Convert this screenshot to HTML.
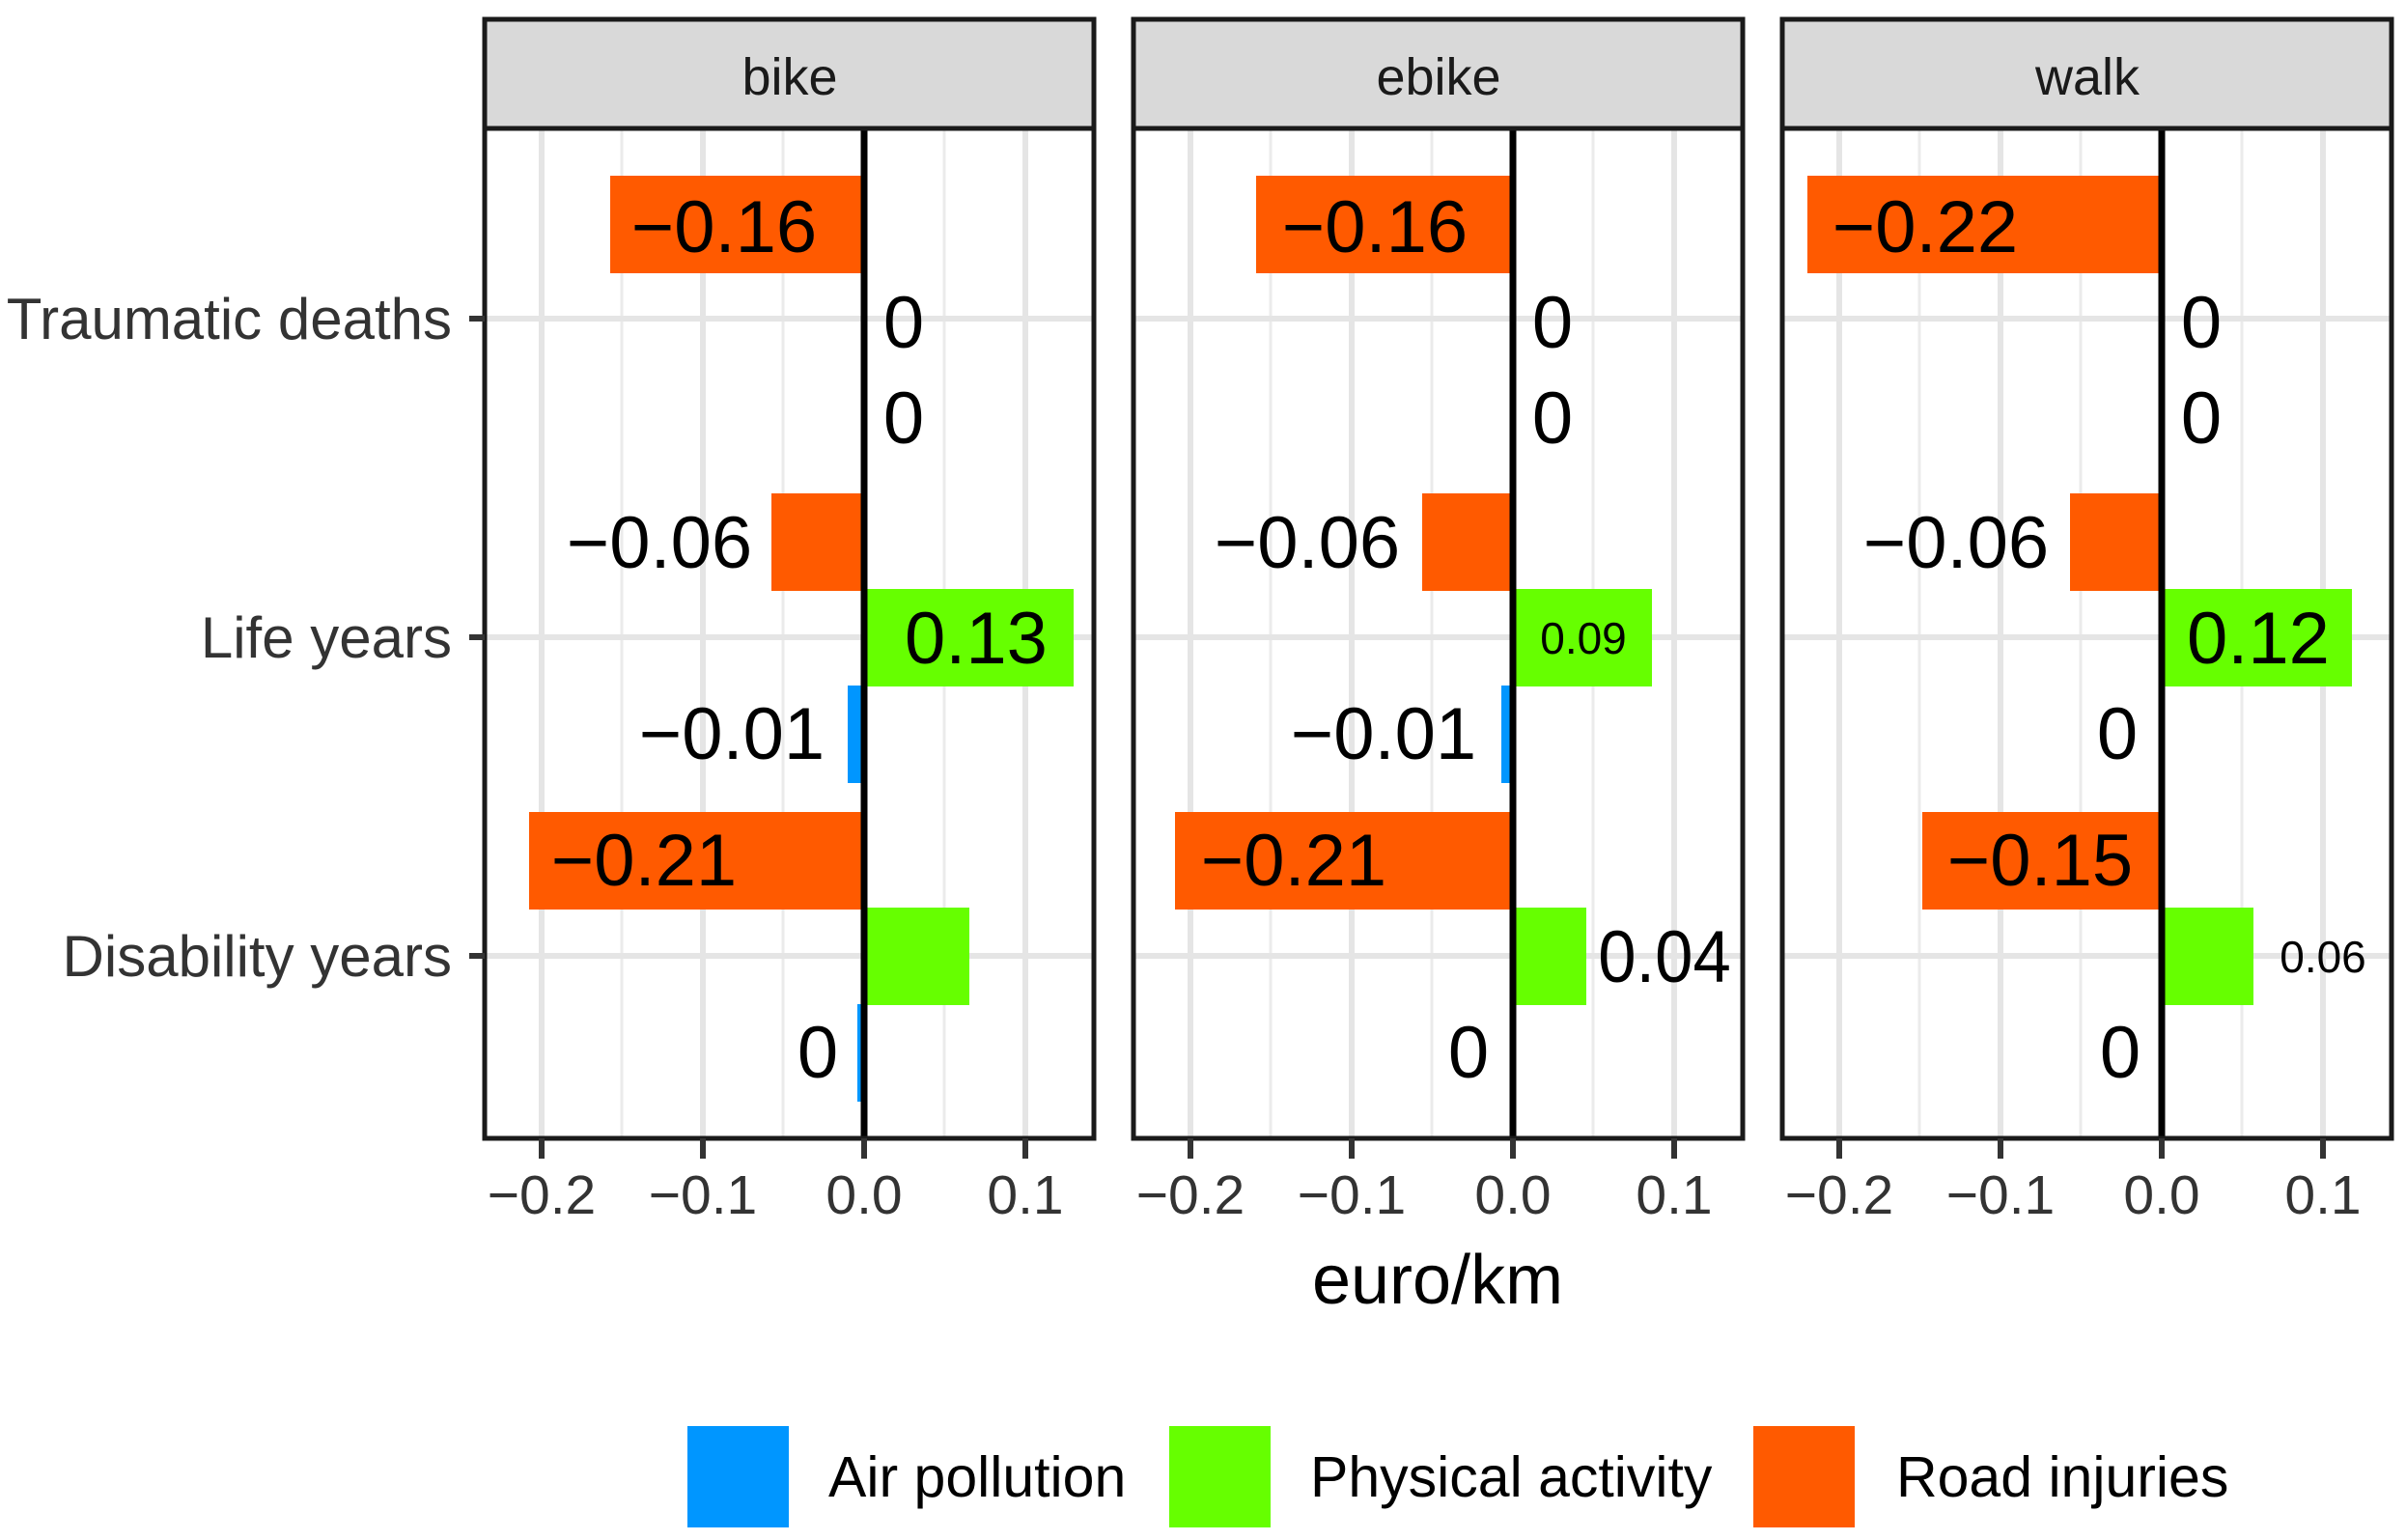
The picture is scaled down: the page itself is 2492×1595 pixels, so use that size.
<!DOCTYPE html>
<html><head><meta charset="utf-8"><style>html,body{margin:0;padding:0;background:#fff}svg{display:block}</style></head>
<body>
<svg width="2492" height="1595" viewBox="0 0 2492 1595" xmlns="http://www.w3.org/2000/svg" font-family="Liberation Sans, Arial, sans-serif">
<rect width="2492" height="1595" fill="#fff"/>
<!-- bike panel -->
<g>
 <rect x="502" y="133" width="631" height="1046" fill="#fff"/>
 <g stroke="#ebebeb" stroke-width="3">
  <line x1="644" y1="133" x2="644" y2="1179"/><line x1="811" y1="133" x2="811" y2="1179"/><line x1="978" y1="133" x2="978" y2="1179"/>
 </g>
 <g stroke="#e5e5e5" stroke-width="6">
  <line x1="561" y1="133" x2="561" y2="1179"/><line x1="728" y1="133" x2="728" y2="1179"/><line x1="1062" y1="133" x2="1062" y2="1179"/>
  <line x1="502" y1="330" x2="1133" y2="330"/><line x1="502" y1="660" x2="1133" y2="660"/><line x1="502" y1="990" x2="1133" y2="990"/>
 </g>
 <rect x="632" y="182" width="263" height="101" fill="#ff5a00"/>
 <rect x="799" y="511" width="96" height="101" fill="#ff5a00"/>
 <rect x="895" y="610" width="217" height="101" fill="#66ff00"/>
 <rect x="878" y="710" width="17" height="101" fill="#0096ff"/>
 <rect x="548" y="841" width="347" height="101" fill="#ff5a00"/>
 <rect x="895" y="940" width="109" height="101" fill="#66ff00"/>
 <rect x="888" y="1040" width="7" height="101" fill="#0096ff"/>
 <line x1="895" y1="133" x2="895" y2="1179" stroke="#000" stroke-width="7"/>
 <rect x="502" y="133" width="631" height="1046" fill="none" stroke="#1a1a1a" stroke-width="5"/>
 <rect x="502" y="20" width="631" height="113" fill="#d9d9d9" stroke="#1a1a1a" stroke-width="5"/>
 <text x="818" y="98" font-size="54" text-anchor="middle" fill="#1a1a1a">bike</text>
 <g font-size="76" text-anchor="middle" fill="#000">
  <text x="750" y="261">−0.16</text>
  <text x="936" y="360">0</text>
  <text x="936" y="459">0</text>
  <text x="683" y="588">−0.06</text>
  <text x="1011" y="687">0.13</text>
  <text x="758" y="786">−0.01</text>
  <text x="667" y="917">−0.21</text>
  <text x="847" y="1116">0</text>
 </g>
 <g stroke="#333" stroke-width="6"><line x1="561" y1="1179" x2="561" y2="1200"/><line x1="728" y1="1179" x2="728" y2="1200"/><line x1="895" y1="1179" x2="895" y2="1200"/><line x1="1062" y1="1179" x2="1062" y2="1200"/></g>
 <g font-size="57" text-anchor="middle" fill="#333"><text x="561" y="1257">−0.2</text><text x="728" y="1257">−0.1</text><text x="895" y="1257">0.0</text><text x="1062" y="1257">0.1</text></g>
</g>
<!-- ebike panel -->
<g transform="translate(672,0)">
 <rect x="502" y="133" width="631" height="1046" fill="#fff"/>
 <g stroke="#ebebeb" stroke-width="3">
  <line x1="644" y1="133" x2="644" y2="1179"/><line x1="811" y1="133" x2="811" y2="1179"/><line x1="978" y1="133" x2="978" y2="1179"/>
 </g>
 <g stroke="#e5e5e5" stroke-width="6">
  <line x1="561" y1="133" x2="561" y2="1179"/><line x1="728" y1="133" x2="728" y2="1179"/><line x1="1062" y1="133" x2="1062" y2="1179"/>
  <line x1="502" y1="330" x2="1133" y2="330"/><line x1="502" y1="660" x2="1133" y2="660"/><line x1="502" y1="990" x2="1133" y2="990"/>
 </g>
 <rect x="629" y="182" width="266" height="101" fill="#ff5a00"/>
 <rect x="801" y="511" width="94" height="101" fill="#ff5a00"/>
 <rect x="895" y="610" width="144" height="101" fill="#66ff00"/>
 <rect x="883" y="710" width="12" height="101" fill="#0096ff"/>
 <rect x="545" y="841" width="350" height="101" fill="#ff5a00"/>
 <rect x="895" y="940" width="76" height="101" fill="#66ff00"/>
 <line x1="895" y1="133" x2="895" y2="1179" stroke="#000" stroke-width="7"/>
 <rect x="502" y="133" width="631" height="1046" fill="none" stroke="#1a1a1a" stroke-width="5"/>
 <rect x="502" y="20" width="631" height="113" fill="#d9d9d9" stroke="#1a1a1a" stroke-width="5"/>
 <text x="818" y="98" font-size="54" text-anchor="middle" fill="#1a1a1a">ebike</text>
 <g font-size="76" text-anchor="middle" fill="#000">
  <text x="752" y="261">−0.16</text>
  <text x="936" y="360">0</text>
  <text x="936" y="459">0</text>
  <text x="682" y="588">−0.06</text>
  <text x="968" y="677" font-size="46">0.09</text>
  <text x="761" y="786">−0.01</text>
  <text x="668" y="917">−0.21</text>
  <text x="1052" y="1017" transform="translate(1052 0) scale(0.93 1) translate(-1052 0)">0.04</text>
  <text x="849" y="1116">0</text>
 </g>
 <g stroke="#333" stroke-width="6"><line x1="561" y1="1179" x2="561" y2="1200"/><line x1="728" y1="1179" x2="728" y2="1200"/><line x1="895" y1="1179" x2="895" y2="1200"/><line x1="1062" y1="1179" x2="1062" y2="1200"/></g>
 <g font-size="57" text-anchor="middle" fill="#333"><text x="561" y="1257">−0.2</text><text x="728" y="1257">−0.1</text><text x="895" y="1257">0.0</text><text x="1062" y="1257">0.1</text></g>
</g>
<!-- walk panel -->
<g transform="translate(1344,0)">
 <rect x="502" y="133" width="631" height="1046" fill="#fff"/>
 <g stroke="#ebebeb" stroke-width="3">
  <line x1="644" y1="133" x2="644" y2="1179"/><line x1="811" y1="133" x2="811" y2="1179"/><line x1="978" y1="133" x2="978" y2="1179"/>
 </g>
 <g stroke="#e5e5e5" stroke-width="6">
  <line x1="561" y1="133" x2="561" y2="1179"/><line x1="728" y1="133" x2="728" y2="1179"/><line x1="1062" y1="133" x2="1062" y2="1179"/>
  <line x1="502" y1="330" x2="1133" y2="330"/><line x1="502" y1="660" x2="1133" y2="660"/><line x1="502" y1="990" x2="1133" y2="990"/>
 </g>
 <rect x="528" y="182" width="367" height="101" fill="#ff5a00"/>
 <rect x="800" y="511" width="95" height="101" fill="#ff5a00"/>
 <rect x="895" y="610" width="197" height="101" fill="#66ff00"/>
 <rect x="647" y="841" width="248" height="101" fill="#ff5a00"/>
 <rect x="895" y="940" width="95" height="101" fill="#66ff00"/>
 <line x1="895" y1="133" x2="895" y2="1179" stroke="#000" stroke-width="7"/>
 <rect x="502" y="133" width="631" height="1046" fill="none" stroke="#1a1a1a" stroke-width="5"/>
 <rect x="502" y="20" width="631" height="113" fill="#d9d9d9" stroke="#1a1a1a" stroke-width="5"/>
 <text x="818" y="98" font-size="54" text-anchor="middle" fill="#1a1a1a">walk</text>
 <g font-size="76" text-anchor="middle" fill="#000">
  <text x="650" y="261">−0.22</text>
  <text x="936" y="360">0</text>
  <text x="936" y="459">0</text>
  <text x="682" y="588">−0.06</text>
  <text x="995" y="687">0.12</text>
  <text x="849" y="786">0</text>
  <text x="769" y="917">−0.15</text>
  <text x="1062" y="1007" font-size="46">0.06</text>
  <text x="852" y="1116">0</text>
 </g>
 <g stroke="#333" stroke-width="6"><line x1="561" y1="1179" x2="561" y2="1200"/><line x1="728" y1="1179" x2="728" y2="1200"/><line x1="895" y1="1179" x2="895" y2="1200"/><line x1="1062" y1="1179" x2="1062" y2="1200"/></g>
 <g font-size="57" text-anchor="middle" fill="#333"><text x="561" y="1257">−0.2</text><text x="728" y="1257">−0.1</text><text x="895" y="1257">0.0</text><text x="1062" y="1257">0.1</text></g>
</g>
<!-- y axis -->
<g stroke="#333" stroke-width="6"><line x1="486" y1="330" x2="502" y2="330"/><line x1="486" y1="660" x2="502" y2="660"/><line x1="486" y1="990" x2="502" y2="990"/></g>
<g font-size="60" text-anchor="end" fill="#333">
 <text x="468" y="351">Traumatic deaths</text>
 <text x="468" y="681">Life years</text>
 <text x="468" y="1011">Disability years</text>
</g>
<text x="1489" y="1350" font-size="72" text-anchor="middle" fill="#000">euro/km</text>
<!-- legend -->
<rect x="712" y="1477" width="105" height="105" fill="#0096ff"/>
<rect x="1211" y="1477" width="105" height="105" fill="#66ff00"/>
<rect x="1816" y="1477" width="105" height="105" fill="#ff5a00"/>
<g font-size="59" fill="#000">
 <text x="858" y="1550">Air pollution</text>
 <text x="1357" y="1550">Physical activity</text>
 <text x="1964" y="1550">Road injuries</text>
</g>
</svg>
</body></html>
